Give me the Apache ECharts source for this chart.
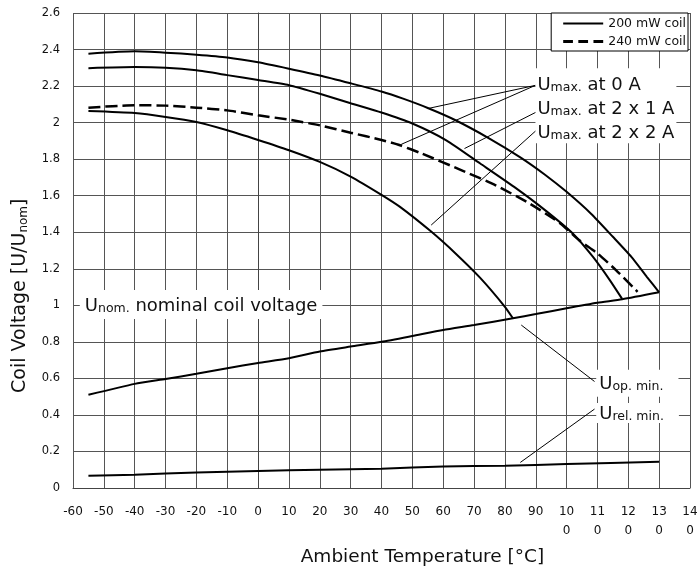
<!DOCTYPE html>
<html><head><meta charset="utf-8">
<script src="https://cdn.jsdelivr.net/npm/echarts/dist/echarts.min.js"></script>
<style>html,body{margin:0;padding:0;background:#fff}#c{width:697px;height:566px}</style>
</head><body><div id="c"></div>
<script>
// ---- Data ----
const xTicks = [-60,-50,-40,-30,-20,-10,0,10,20,30,40,50,60,70,80,90,100,110,120,130,140];
const xTickLabels = ['-60','-50','-40','-30','-20','-10','0','10','20','30','40','50','60','70','80','90','10\n0','11\n0','12\n0','13\n0','14\n0'];
const yTickLabels = ['0','0.2','0.4','0.6','0.8','1','1.2','1.4','1.6','1.8','2','2.2','2.4','2.6'];

// Umax at 0 A, 200 mW coil
const tempMax0 = [-55,-40,-30,-20,-10,0,10,20,30,40,47,55,64,75,85,93,100,108,115,121,126,130];
const voltMax0 = [2.377,2.390,2.383,2.372,2.357,2.330,2.295,2.258,2.215,2.170,2.131,2.080,2.013,1.913,1.810,1.715,1.621,1.500,1.375,1.265,1.156,1.071];
// Umax at 2 x 1 A, 200 mW coil
const tempMax1 = [-55,-40,-30,-20,-10,0,10,20,30,40,50,61,72,83,93,102,108.5,114,118];
const voltMax1 = [2.298,2.304,2.300,2.286,2.260,2.233,2.205,2.158,2.106,2.055,1.995,1.903,1.776,1.648,1.521,1.393,1.266,1.138,1.035];
// Umax at 0 A, 240 mW coil (dashed)
const tempMax240 = [-55,-40,-30,-20,-10,0,10,20,30,40,46,53,66,77,88,98,104,110,116,123];
const voltMax240 = [2.082,2.095,2.093,2.082,2.067,2.040,2.016,1.985,1.945,1.905,1.876,1.831,1.739,1.657,1.557,1.448,1.357,1.284,1.193,1.074];
// Umax at 2 x 2 A, 200 mW coil
const tempMax2 = [-55,-40,-30,-20,-10,0,10,20,30,40,46,56,64,72,80,82.6];
const voltMax2 = [2.063,2.052,2.031,2.003,1.958,1.905,1.849,1.785,1.705,1.605,1.539,1.405,1.284,1.150,0.992,0.929];
// Uop. min.
const tempOp = [-55,-40,-30,-20,-10,0,10,20,30,40,50,60,70,82.6,90,100,110,118,130];
const voltOp = [0.510,0.570,0.597,0.625,0.656,0.684,0.710,0.747,0.774,0.800,0.832,0.865,0.892,0.929,0.952,0.984,1.014,1.033,1.071];
// Urel. min.
const tempRel = [-55,-40,-20,0,20,40,60,80,100,130];
const voltRel = [0.067,0.073,0.085,0.093,0.100,0.106,0.118,0.122,0.131,0.144];

// annotation leader lines (data space: [temp, volt])
const leaders = [
  [[89.9,2.204],[55.0,2.077]],
  [[89.9,2.204],[46.4,1.881]],
  [[90.2,2.058],[66.9,1.858]],
  [[90.2,1.958],[56.1,1.439]],
  [[85.3,0.892],[109.05,0.583]],
  [[85.0,0.140],[109.05,0.432]]
];
// annotation label anchors (data space: left edge of label box)
const labelUmax = [89.9, 2.092];
const labelUnom = [-57.8, 1.004];
const labelUop = [109.6, 0.574];
const labelUrel = [109.6, 0.411];

const FONT = 'DejaVu Sans';
const zip = (xs, ys) => xs.map((x, i) => [x, ys[i]]);
const lineSeries = (name, xs, ys, dashed) => ({
  type: 'line', name, data: zip(xs, ys), symbol: 'none', showSymbol: false,
  smooth: 0.2, silent: true, z: 3,
  lineStyle: { color: '#000', width: dashed ? 2.5 : 2, type: dashed ? [12, 5] : 'solid' },
  itemStyle: { color: '#000' }
});
const richMain = {
  u: { fontSize: 18, fontFamily: FONT, color: '#111', verticalAlign: 'bottom' },
  s: { fontSize: 12.5, fontFamily: FONT, color: '#111', verticalAlign: 'bottom' },
  t: { fontSize: 18, fontFamily: FONT, color: '#111', verticalAlign: 'bottom' }
};
const mkLabel = (coord, text, padding, lineHeight) => ({
  coord, symbol: 'circle', symbolSize: 0,
  label: {
    show: true, position: 'right', distance: 0, formatter: text,
    backgroundColor: '#fff', padding, lineHeight, rich: richMain
  }
});

const seriesA = lineSeries('200 mW coil', tempMax0, voltMax0, false);
seriesA.markLine = {
  silent: true, symbol: ['none', 'none'], animation: false,
  lineStyle: { color: '#000', width: 1, type: 'solid' }, label: { show: false },
  data: leaders.map(([a, b]) => [{ coord: a }, { coord: b }])
};
seriesA.markPoint = {
  silent: true, animation: false,
  data: [
    mkLabel(labelUmax, '{u|U}{s|max.}{t| at 0 A}\n{u|U}{s|max.}{t| at 2 x 1 A}\n{u|U}{s|max.}{t| at 2 x 2 A}', [2, 2, 1, 2], 24),
    mkLabel(labelUnom, '{u|U}{s|nom.}{t| nominal coil voltage}', [4, 5, 4, 5], 21),
    mkLabel(labelUop, '{u|U}{s|op. min.}', [3, 15, 3, 3], 21),
    mkLabel(labelUrel, '{u|U}{s|rel. min.}', [0, 15, 0, 3], 20)
  ]
};

const chart = echarts.init(document.getElementById('c'), null, { renderer: 'canvas' });
chart.setOption({
  animation: false,
  backgroundColor: '#fff',
  textStyle: { fontFamily: FONT },
  grid: { left: 73, top: 13, width: 617, height: 475, outerBoundsMode: 'none', containLabel: false },
  legend: {
    orient: 'vertical', right: 9, top: 13, align: 'left',
    backgroundColor: '#fff', borderColor: '#000', borderWidth: 1, borderRadius: 0,
    padding: [4, 2, 3, 12], itemGap: 5, itemWidth: 40, itemHeight: 14,
    textStyle: { fontFamily: FONT, fontSize: 12.5, color: '#111' },
    data: [
      { name: '200 mW coil', icon: 'path://M0,6 L40,6 L40,8 L0,8 Z', itemStyle: { color: '#000' } },
      { name: '240 mW coil', icon: 'path://M0,5.5L9,5.5L9,8.5L0,8.5Z M14,5.5L23,5.5L23,8.5L14,8.5Z M28,5.5L37,5.5L37,8.5L28,8.5Z', itemStyle: { color: '#000' } }
    ]
  },
  xAxis: {
    type: 'value', min: -60, max: 140, interval: 10,
    axisLine: { show: true, lineStyle: { color: '#444', width: 1 } },
    axisTick: { show: false },
    splitLine: { show: true, lineStyle: { color: '#555', width: 1 } },
    axisLabel: {
      margin: 14, fontSize: 12, lineHeight: 19, color: '#111', fontFamily: FONT,
      formatter: v => xTickLabels[xTicks.indexOf(Math.round(v))] ?? ''
    }
  },
  yAxis: {
    type: 'value', min: 0, max: 2.6, interval: 0.2,
    axisLine: { show: true, lineStyle: { color: '#444', width: 1 } },
    axisTick: { show: false },
    splitLine: { show: true, lineStyle: { color: '#555', width: 1 } },
    axisLabel: {
      margin: 13, fontSize: 11.5, color: '#111', fontFamily: FONT,
      formatter: v => yTickLabels[Math.round(v / 0.2)] ?? ''
    }
  },
  graphic: [
    { type: 'text', x: 300.7, y: 557, silent: true,
      style: { text: 'Ambient Temperature [°C]', fontFamily: FONT, fontSize: 18.5, fill: '#111', align: 'left', verticalAlign: 'middle' } },
    { type: 'text', x: 20, y: 393, rotation: Math.PI / 2, silent: true,
      style: { text: 'Coil Voltage [U/U{s|nom}]', fontFamily: FONT, fontSize: 19, fill: '#111', align: 'left', verticalAlign: 'middle',
        rich: { s: { fontSize: 12, fontFamily: FONT, fill: '#111', verticalAlign: 'bottom' } } } }
  ],
  series: [
    seriesA,
    lineSeries('Umax 2x1A', tempMax1, voltMax1, false),
    lineSeries('240 mW coil', tempMax240, voltMax240, true),
    lineSeries('Umax 2x2A', tempMax2, voltMax2, false),
    lineSeries('Uop min', tempOp, voltOp, false),
    lineSeries('Urel min', tempRel, voltRel, false)
  ]
});
</script>
</body></html>
